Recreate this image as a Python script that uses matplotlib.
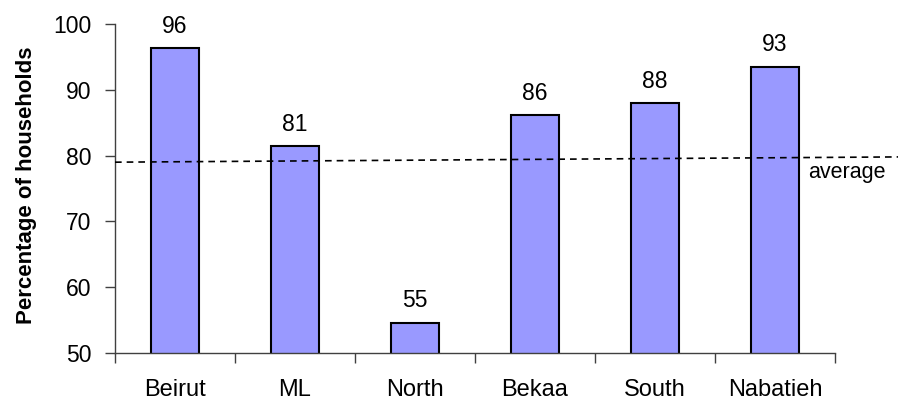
import matplotlib
matplotlib.use("Agg")
import matplotlib.pyplot as plt
import numpy as np

plt.rcParams["font.family"] = ["Liberation Sans", "DejaVu Sans"]

regions = ["Beirut", "ML", "North", "Bekaa", "South", "Nabatieh"]
values = [96.3, 81.4, 54.6, 86.2, 88.0, 93.5]
labels = ["96", "81", "55", "86", "88", "93"]
avg_x = [-0.5, 6.03]
avg_y = [79.0, 79.8]

fig = plt.figure(figsize=(8.98, 4.0), dpi=100)
ax = fig.add_axes([115 / 898, 1 - 353 / 400, 720 / 898, 329 / 400])

x = np.arange(len(regions))
ax.bar(x, values, width=0.4, color="#9999ff", edgecolor="black",
       linewidth=1.5, zorder=2)
for xi, v, lab in zip(x, values, labels):
    ax.annotate(lab, (xi, v), xytext=(0, 11), textcoords="offset points",
                ha="center", va="baseline", fontsize=16.5)

ax.plot(avg_x, avg_y, color="black", linestyle=(0, (4, 3)), linewidth=1.2,
        clip_on=False, zorder=3)
ax.text(5.6, 76.6, "average", ha="center", va="baseline", fontsize=15.5)

ax.set_xlim(-0.5, 5.5)
ax.set_ylim(50, 100)
ax.set_yticks(range(50, 101, 10))
ax.set_xticks(x)
ax.set_xticklabels(regions)
ax.set_xticks(np.arange(-0.5, 6, 1), minor=True)
ax.tick_params(axis="x", which="major", length=0, pad=19, labelsize=17)
ax.tick_params(axis="x", which="minor", length=7, width=1, direction="out",
               color="#404040")
ax.tick_params(axis="y", length=7, width=1, color="#404040", labelsize=16.5,
               pad=10)
for s in ["top", "right"]:
    ax.spines[s].set_visible(False)
for s in ["left", "bottom"]:
    ax.spines[s].set_color("#404040")
    ax.spines[s].set_linewidth(1)
ax.set_ylabel("Percentage of households", fontsize=16, fontweight="bold")
ax.yaxis.set_label_coords(-0.108, 0.51)

fig.savefig("out.png", dpi=100)
plt.close(fig)
